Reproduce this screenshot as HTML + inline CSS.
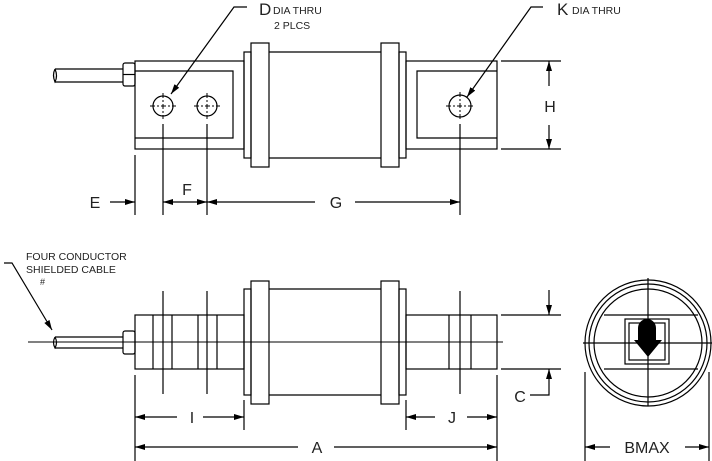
<!DOCTYPE html>
<html><head><meta charset="utf-8"><style>
html,body{margin:0;padding:0;background:#fff;}
svg{display:block;}
text{font-family:"Liberation Sans",sans-serif;fill:#222;}
</style></head><body>
<svg width="712" height="461" viewBox="0 0 712 461" xmlns="http://www.w3.org/2000/svg">
<defs>
<marker id="a" viewBox="0 0 10 6" refX="10" refY="3" markerWidth="10" markerHeight="6" markerUnits="userSpaceOnUse" orient="auto"><path d="M0,0 L10,3 L0,6 z" fill="#000"/></marker>
</defs>
<g fill="none" stroke="#000" stroke-width="1.2">
<!-- TOP VIEW -->
<line x1="55" y1="69" x2="123" y2="69"/><line x1="55" y1="82" x2="123" y2="82"/>
<path d="M55,69 q-3,6 0,13 q3,-6 0,-13"/>
<rect x="123" y="63" width="12" height="23" rx="2"/>
<line x1="123" y1="74.5" x2="135" y2="74.5"/>
<rect x="135" y="61" width="109" height="88"/>
<polyline points="135,71 233,71 233,138 135,138"/>
<circle cx="163" cy="106" r="10"/><circle cx="207" cy="106" r="10"/>
<circle cx="460" cy="106" r="11"/>
<rect x="244" y="52" width="7" height="106"/>
<rect x="251" y="43" width="18" height="124"/>
<line x1="269" y1="52" x2="381" y2="52"/><line x1="269" y1="158" x2="381" y2="158"/>
<rect x="381" y="43" width="18" height="124"/>
<rect x="399" y="52" width="7" height="106"/>
<rect x="406" y="61" width="91" height="88"/>
<polyline points="497,71 417,71 417,138 497,138"/>
<g stroke-width="1" stroke-dasharray="5,2,2,2">
<line x1="150" y1="106" x2="176" y2="106"/><line x1="194" y1="106" x2="220" y2="106"/>
<line x1="446" y1="106" x2="474" y2="106"/>
<line x1="163" y1="93" x2="163" y2="119"/><line x1="207" y1="93" x2="207" y2="119"/>
<line x1="460" y1="92" x2="460" y2="119"/>
</g>
<line x1="163" y1="124" x2="163" y2="215"/>
<line x1="207" y1="124" x2="207" y2="215"/>
<line x1="460" y1="124" x2="460" y2="215"/>
<line x1="135" y1="155" x2="135" y2="215"/>
<!-- leaders -->
<polyline points="247,7 234,7 171,94" marker-end="url(#a)"/>
<polyline points="543,7 531,7 467,97" marker-end="url(#a)"/>
<!-- H -->
<line x1="501" y1="61" x2="561" y2="61"/><line x1="501" y1="149" x2="561" y2="149"/>
<line x1="549" y1="86" x2="549" y2="61" marker-end="url(#a)"/>
<line x1="549" y1="125" x2="549" y2="149" marker-end="url(#a)"/>
<!-- E F G -->
<line x1="110" y1="202" x2="135" y2="202" marker-end="url(#a)"/>
<line x1="185" y1="202" x2="163" y2="202" marker-end="url(#a)"/>
<line x1="185" y1="202" x2="207" y2="202" marker-end="url(#a)"/>
<line x1="315" y1="202" x2="207" y2="202" marker-end="url(#a)"/>
<line x1="355" y1="202" x2="460" y2="202" marker-end="url(#a)"/>
<!-- SIDE VIEW -->
<line x1="28" y1="342" x2="503" y2="342" stroke-width="1"/>
<line x1="55" y1="337" x2="123" y2="337"/><line x1="55" y1="348" x2="123" y2="348"/>
<path d="M55,337 q-3,5.5 0,11 q3,-5.5 0,-11"/>
<rect x="123" y="331" width="12" height="23" rx="2"/>
<rect x="135" y="315" width="109" height="54"/>
<line x1="153" y1="315" x2="153" y2="369"/><line x1="172" y1="315" x2="172" y2="369"/>
<line x1="198" y1="315" x2="198" y2="369"/><line x1="217" y1="315" x2="217" y2="369"/>
<line x1="163" y1="291" x2="163" y2="394"/><line x1="207" y1="291" x2="207" y2="394"/>
<rect x="244" y="289" width="7" height="106"/>
<rect x="251" y="281" width="18" height="123"/>
<line x1="269" y1="289" x2="381" y2="289"/><line x1="269" y1="395" x2="381" y2="395"/>
<rect x="381" y="281" width="18" height="123"/>
<rect x="399" y="289" width="7" height="106"/>
<rect x="406" y="315" width="91" height="54"/>
<line x1="449" y1="315" x2="449" y2="369"/><line x1="471" y1="315" x2="471" y2="369"/>
<line x1="460" y1="291" x2="460" y2="394"/>
<polyline points="4,263 12,263 52,330" marker-end="url(#a)"/>
<!-- C -->
<line x1="501" y1="315" x2="561" y2="315"/><line x1="501" y1="369" x2="561" y2="369"/>
<line x1="549" y1="290" x2="549" y2="315" marker-end="url(#a)"/>
<polyline points="530,395 549,395 549,369" marker-end="url(#a)"/>
<!-- I J A -->
<line x1="135" y1="375" x2="135" y2="461"/>
<line x1="244" y1="400" x2="244" y2="430"/>
<line x1="406" y1="400" x2="406" y2="430"/>
<line x1="497" y1="375" x2="497" y2="461"/>
<line x1="177" y1="417" x2="135" y2="417" marker-end="url(#a)"/>
<line x1="203" y1="417" x2="244" y2="417" marker-end="url(#a)"/>
<line x1="435" y1="417" x2="406" y2="417" marker-end="url(#a)"/>
<line x1="467" y1="417" x2="497" y2="417" marker-end="url(#a)"/>
<line x1="298" y1="447" x2="135" y2="447" marker-end="url(#a)"/>
<line x1="334" y1="447" x2="497" y2="447" marker-end="url(#a)"/>
<!-- END VIEW -->
<circle cx="648" cy="343" r="63"/>
<circle cx="648" cy="343" r="59"/>
<circle cx="648" cy="343" r="54"/>
<line x1="604" y1="315" x2="698" y2="315"/><line x1="604" y1="369" x2="698" y2="369"/>
<line x1="583" y1="343" x2="712" y2="343"/>
<line x1="648" y1="278" x2="648" y2="406"/>
<rect x="625" y="319" width="44" height="45"/>
<rect x="629" y="323" width="36" height="37"/>
<line x1="585" y1="372" x2="585" y2="461"/>
<line x1="709" y1="372" x2="709" y2="461"/>
<line x1="610" y1="447" x2="585" y2="447" marker-end="url(#a)"/>
<line x1="685" y1="447" x2="709" y2="447" marker-end="url(#a)"/>
</g>
<path d="M638,340 L638,328 A9,9 0 0 1 656,328 L656,340 L662,340 L648,357 L634,340 Z" fill="#000"/>
<!-- TEXT -->
<text x="259" y="15" font-size="17">D</text>
<text x="273" y="14" font-size="10.5">DIA THRU</text>
<text x="274" y="29" font-size="10.5">2 PLCS</text>
<text x="557" y="15" font-size="17">K</text>
<text x="572" y="14" font-size="10.5">DIA THRU</text>
<text x="550" y="112" font-size="16" text-anchor="middle">H</text>
<text x="95" y="208" font-size="16" text-anchor="middle">E</text>
<text x="187" y="195" font-size="16" text-anchor="middle">F</text>
<text x="336" y="208" font-size="16" text-anchor="middle">G</text>
<text x="26" y="260" font-size="10.5">FOUR CONDUCTOR</text>
<text x="26" y="273" font-size="10.5">SHIELDED CABLE</text>
<text x="40" y="285" font-size="9">#</text>
<text x="520" y="402" font-size="16" text-anchor="middle">C</text>
<text x="192" y="423" font-size="16" text-anchor="middle">I</text>
<text x="452" y="423" font-size="16" text-anchor="middle">J</text>
<text x="317" y="453" font-size="16" text-anchor="middle">A</text>
<text x="647" y="453" font-size="16" text-anchor="middle">BMAX</text>
</svg>
</body></html>
